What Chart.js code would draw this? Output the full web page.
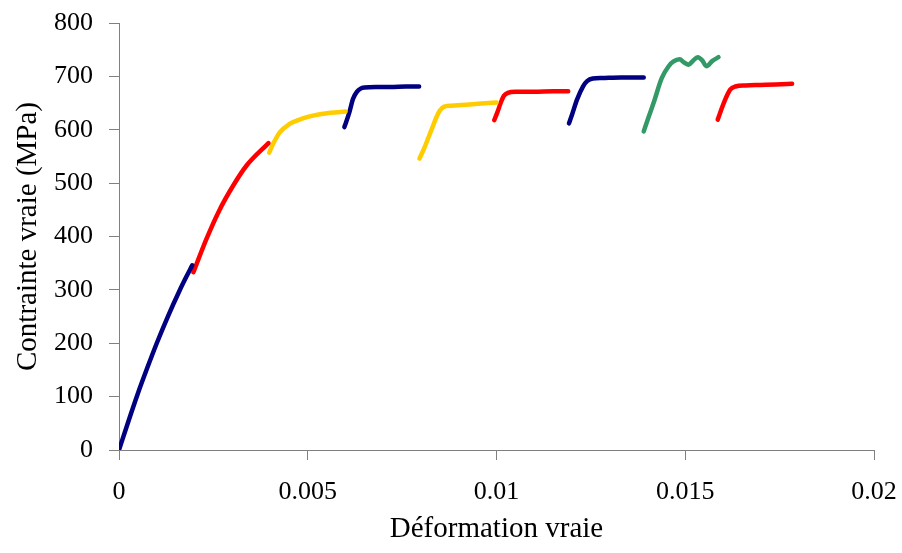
<!DOCTYPE html>
<html><head><meta charset="utf-8">
<script src="https://cdn.jsdelivr.net/npm/chart.js@4/dist/chart.umd.min.js"></script>
<style>html,body{margin:0;padding:0;background:#fff;overflow:hidden}#wrap{width:902px;height:553px;position:relative}</style>
</head><body><div id="wrap"><canvas id="c" width="902" height="553"></canvas></div>
<script>
// Data (true strain, true stress in MPa)
const strain1 = [0, 0.00025, 0.0005, 0.00075, 0.001, 0.0013, 0.0016, 0.00178, 0.00194];
const stress1 = [0, 54, 106, 154, 200, 251, 298, 324, 346];

const strain2 = [0.00197, 0.00232, 0.00265, 0.00303, 0.00338, 0.00396];
const stress2 = [333, 396, 448, 496, 533, 575];

const strain3 = [0.00398, 0.0041, 0.00427, 0.0045, 0.00471, 0.005, 0.00532, 0.0056, 0.006];
const stress3 = [557, 576, 596, 610, 617, 624, 629, 632, 634];

const strain4 = [0.00597, 0.0061, 0.0062, 0.0063, 0.0064, 0.0065, 0.0068, 0.0072, 0.0076, 0.00795];
const stress4 = [605, 632, 658, 671, 677, 679, 680, 680, 681, 681];

const strain5 = [0.00796, 0.0081, 0.0082, 0.0083, 0.0084, 0.0085, 0.0086, 0.0088, 0.0092, 0.0096, 0.01];
const stress5 = [546, 568, 586, 604, 622, 636, 643, 645, 647, 649, 651];

const strain6 = [0.00994, 0.01003, 0.01012, 0.0102, 0.0103, 0.0105, 0.011, 0.0115, 0.0119];
const stress6 = [618, 634, 652, 664, 669, 671, 671, 672, 672];

const strain7 = [0.01192, 0.012, 0.01213, 0.01229, 0.0124, 0.01255, 0.0128, 0.0133, 0.0139];
const stress7 = [612, 628, 656, 681, 691, 696, 697, 698, 698];

const strain8 = [0.0139, 0.01403, 0.01416, 0.01438, 0.01456, 0.01469, 0.01485, 0.01497, 0.01509, 0.0152, 0.01533, 0.01545, 0.01556, 0.01572, 0.01588];
const stress8 = [597, 624, 650, 697, 719, 728, 732, 726, 722, 729, 736, 730, 719, 729, 736];

const strain9 = [0.01586, 0.01602, 0.01619, 0.01633, 0.0166, 0.017, 0.0174, 0.01783];
const stress9 = [619, 650, 675, 681, 683, 684, 685, 686];

const xTickLabels = ['0', '0.005', '0.01', '0.015', '0.02'];
const yTickLabels = ['0', '100', '200', '300', '400', '500', '600', '700', '800'];

const NAVY = '#000080', RED = '#FF0000', YELLOW = '#FFCC00', GREEN = '#339966';
const series = [
  [strain1, stress1, NAVY], [strain2, stress2, RED], [strain3, stress3, YELLOW],
  [strain4, stress4, NAVY], [strain5, stress5, YELLOW], [strain6, stress6, RED],
  [strain7, stress7, NAVY], [strain8, stress8, GREEN], [strain9, stress9, RED]
];

const FONT = "'Liberation Serif', 'Times New Roman', serif";
const AXIS = '#808080';

function zeroPad(s) { s.paddingTop = 0; s.paddingBottom = 0; s.paddingLeft = 0; s.paddingRight = 0; }

new Chart(document.getElementById('c'), {
  type: 'scatter',
  data: {
    datasets: series.map(([xs, ys, col]) => ({
      data: xs.map((x, i) => ({x: x, y: ys[i]})),
      showLine: true,
      borderColor: col,
      backgroundColor: col,
      borderWidth: 4.5,
      borderCapStyle: 'round',
      borderJoinStyle: 'round',
      pointRadius: 0,
      pointHoverRadius: 0,
      cubicInterpolationMode: 'monotone',
      fill: false
    }))
  },
  options: {
    responsive: false,
    animation: false,
    devicePixelRatio: 1,
    layout: {padding: {left: 0, right: 28, top: 23, bottom: 0}},
    plugins: {legend: {display: false}, tooltip: {enabled: false}},
    scales: {
      x: {
        type: 'linear', min: 0, max: 0.02,
        afterBuildTicks: s => { s.ticks = xTickLabels.map((t, i) => ({value: i * 0.005})); },
        afterFit: s => { s.height = 103; zeroPad(s); },
        ticks: {
          color: '#000', font: {family: FONT, size: 26}, padding: 17, maxRotation: 0,
          callback: (v, i) => xTickLabels[i]
        },
        grid: {drawOnChartArea: false, drawTicks: true, tickLength: 10, color: AXIS},
        border: {display: true, color: AXIS, width: 1},
        title: {display: true, text: 'Déformation vraie', color: '#000',
          font: {family: FONT, size: 29}, padding: {top: 0, bottom: 6}}
      },
      y: {
        type: 'linear', min: 0, max: 800,
        afterBuildTicks: s => { s.ticks = yTickLabels.map(t => ({value: Number(t)})); },
        afterFit: s => { s.width = 119; zeroPad(s); },
        ticks: {
          color: '#000', font: {family: FONT, size: 26}, padding: 16,
          callback: (v, i) => yTickLabels[i]
        },
        grid: {drawOnChartArea: false, drawTicks: true, tickLength: 10, color: AXIS},
        border: {display: true, color: AXIS, width: 1},
        title: {display: true, text: 'Contrainte vraie (MPa)', color: '#000',
          font: {family: FONT, size: 29}, padding: {top: 11, bottom: 0}}
      }
    }
  }
});
</script>
</body></html>
